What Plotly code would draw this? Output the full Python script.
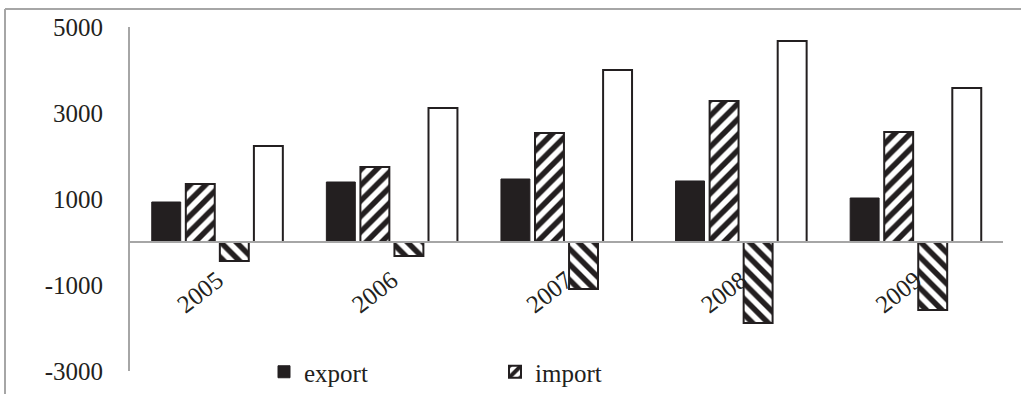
import plotly.graph_objects as go

years = ["2005", "2006", "2007", "2008", "2009"]
export = [930, 1395, 1465, 1419, 1023]
imports = [1349, 1744, 2535, 3279, 2558]
balance = [-442, -325, -1093, -1884, -1581]
total = [2233, 3116, 4000, 4674, 3581]
y_ticks = [-3000, -1000, 1000, 3000, 5000]
y_tick_text = ["-3000", "-1000", "1000", "3000", "5000"]

INK = "#231f20"
GRAY = "#a6a6a6"
FONT = dict(family="Liberation Serif, Times New Roman, serif", size=25, color=INK)

fig = go.Figure()
fig.add_trace(go.Bar(x=years, y=export, name="export",
                     marker=dict(color=INK, line=dict(color=INK, width=1))))
fig.add_trace(go.Bar(x=years, y=imports, name="import",
                     marker=dict(color="white", line=dict(color=INK, width=2),
                                 pattern=dict(shape="/", fgcolor=INK, bgcolor="white",
                                              fgopacity=1, size=11, solidity=0.5,
                                              fillmode="overlay"))))
fig.add_trace(go.Bar(x=years, y=balance, name="balance", showlegend=False,
                     marker=dict(color="white", line=dict(color=INK, width=2),
                                 pattern=dict(shape="\\", fgcolor=INK, bgcolor="white",
                                              fgopacity=1, size=11, solidity=0.5,
                                              fillmode="overlay"))))
fig.add_trace(go.Bar(x=years, y=total, name="total", showlegend=False,
                     marker=dict(color="white", line=dict(color=INK, width=2))))

L, R, T, B = 130, 18, 27, 23
W, H = 1021, 394
pw, ph = W - L - R, H - T - B

def px_x(p):
    return (p - L) / pw

def px_y(p):
    return (H - B - p) / ph

fig.update_layout(
    width=W, height=H,
    margin=dict(l=L, r=R, t=T, b=B, autoexpand=False),
    paper_bgcolor="white", plot_bgcolor="white",
    font=FONT,
    barmode="group", bargap=0.22, bargroupgap=0.15,
    xaxis=dict(anchor="free", position=px_y(242), showline=True, linecolor=GRAY,
               linewidth=2, showgrid=False, zeroline=False, tickangle=-38,
               ticks="outside", ticklen=0, ticklabelstandoff=13,
               tickfont=FONT),
    yaxis=dict(range=[-3000, 5000], tickvals=y_ticks, ticktext=y_tick_text,
               showline=True, linecolor=GRAY,
               linewidth=2, showgrid=False, zeroline=False, ticks="outside",
               ticklen=0, ticklabelstandoff=20, tickfont=FONT),
    legend=dict(orientation="h", x=px_x(264), xanchor="left", y=px_y(372),
                yanchor="middle", font=FONT, entrywidth=186, entrywidthmode="pixels",
                bgcolor="rgba(0,0,0,0)", itemwidth=30),
    shapes=[
        dict(type="line", xref="paper", yref="paper", x0=px_x(5), x1=px_x(1021),
             y0=px_y(9), y1=px_y(9), line=dict(color=GRAY, width=2)),
        dict(type="line", xref="paper", yref="paper", x0=px_x(5), x1=px_x(5),
             y0=px_y(9), y1=px_y(394), line=dict(color=GRAY, width=2)),
    ],
)

fig.write_html("out.html")
